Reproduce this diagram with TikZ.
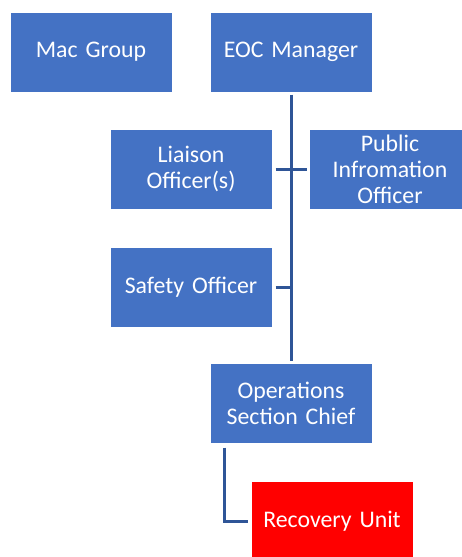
\documentclass[tikz,border=0pt]{standalone}
\usepackage{fontspec}
\setmainfont{Carlito}
\usepackage{tikz}
\usetikzlibrary{positioning, calc}
\definecolor{boxblue}{RGB}{68,114,196}
\definecolor{linkblue}{RGB}{47,85,151}
\definecolor{unitred}{RGB}{255,0,0}
\tikzset{
  orgbox/.style={rectangle, draw=white, fill=boxblue, line width=1pt,
    minimum width=162pt, minimum height=80pt, text width=150pt,
    align=center, text=white, inner sep=0pt,
    font=\fontsize{23.8}{26}\selectfont},
  redbox/.style={orgbox, fill=unitred},
  link/.style={line width=3pt, color=linkblue}
}
\begin{document}
\begin{tikzpicture}[x=1pt, y=-1pt]
  \useasboundingbox (0,0) rectangle (462,557);
  % top row
  \node[orgbox] (macgroup) at (91,52) {Mac Group};
  \node[orgbox] (eoc) at (291,52) {EOC Manager};
  % command staff
  \node[orgbox] (liaison) at (191,169) {Liaison\\Officer(s)};
  \node[orgbox] (pio) at (390,169) {Public\\Infromation\\Officer};
  \node[orgbox] (safety) at (191,287) {Safety Officer};
  % sections
  \node[orgbox] (ops) at (291,403) {Operations\\Section Chief};
  \node[redbox] (recovery) at (332,521) {Recovery Unit};
  % connectors
  \draw[link, shorten <=2pt, shorten >=2pt] (eoc.south) -- (ops.north);
  \draw[link, shorten <=3pt, shorten >=2pt] (liaison.east) -- (pio.west);
  \draw[link, shorten <=3pt] (safety.east) -- (safety.east -| eoc.south);
  \coordinate (opsdrop) at ($(ops.south west)+(15,4)$);
  \draw[link, shorten >=3pt] (opsdrop) |- (recovery.west);
\end{tikzpicture}
\end{document}
